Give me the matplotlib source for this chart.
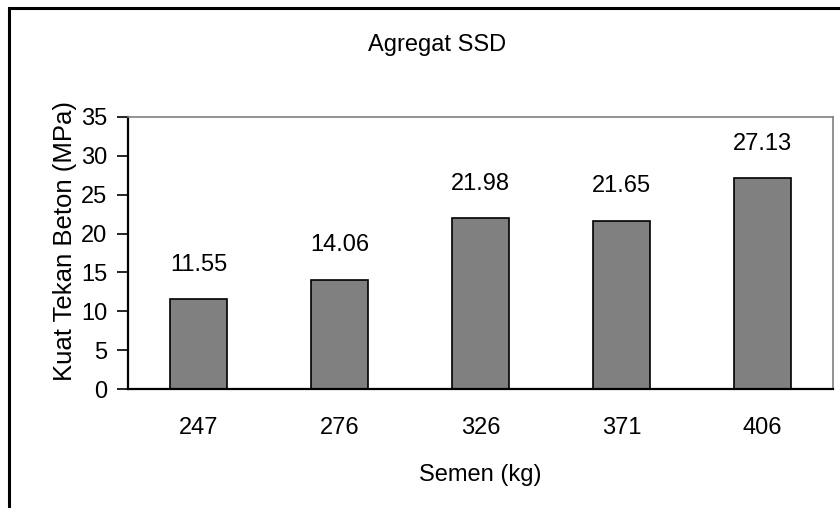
import matplotlib.pyplot as plt
from matplotlib.patches import Rectangle

plt.rcParams['font.family'] = ['Liberation Sans', 'DejaVu Sans']

semen = ['247', '276', '326', '371', '406']
kuat_tekan = [11.55, 14.06, 21.98, 21.65, 27.13]
y_ticks = [0, 5, 10, 15, 20, 25, 30, 35]

fs = 17

fig = plt.figure(figsize=(8.4, 5.08), dpi=100)
ax = fig.add_axes([128 / 840, 1 - 389 / 508, (833 - 128) / 840, (389 - 117) / 508])

x = range(len(semen))
bars = ax.bar(x, kuat_tekan, width=0.41, color='#808080', edgecolor='black', linewidth=1.2)
ax.bar_label(bars, labels=[f'{v:.2f}' for v in kuat_tekan], padding=17, fontsize=fs)

ax.set_xlim(-0.5, len(semen) - 0.5)
ax.set_ylim(0, 35)
ax.set_yticks(y_ticks)
ax.set_xticks(list(x))
ax.set_xticklabels(semen)
ax.tick_params(axis='x', length=0, pad=20, labelsize=fs)
ax.tick_params(axis='y', length=8, width=1.2, direction='out', pad=7, labelsize=fs)

for side in ['top', 'right']:
    ax.spines[side].set_color('#808080')
    ax.spines[side].set_linewidth(1.2)
for side in ['left', 'bottom']:
    ax.spines[side].set_color('black')
    ax.spines[side].set_linewidth(1.6)

ax.set_xlabel('Semen (kg)', fontsize=fs, labelpad=18)
ax.set_ylabel('Kuat Tekan Beton (MPa)', fontsize=18.5)
ax.yaxis.set_label_coords(-0.072, 0.545)
fig.text(437 / 840, 1 - 45 / 508, 'Agregat SSD', ha='center', va='center', fontsize=fs)

# outer chart frame, running past the image edges on the right and bottom
fig.patches.append(Rectangle((9 / 840, -0.1), 1.2, 1 - 8 / 508 + 0.1, transform=fig.transFigure,
                             fill=False, edgecolor='black', linewidth=2.2))

fig.savefig('out.png', dpi=100)
